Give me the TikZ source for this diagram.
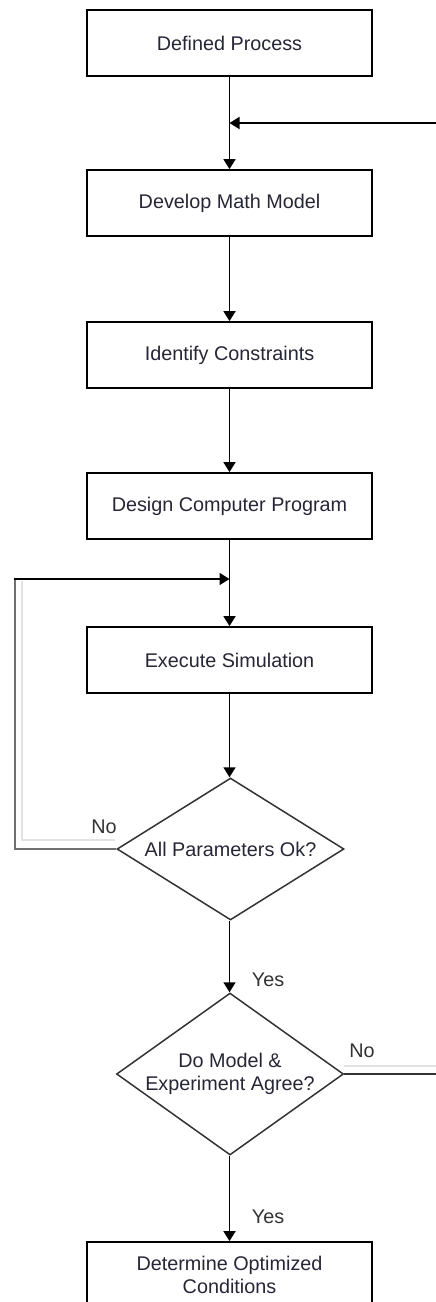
\documentclass[tikz,border=0pt]{standalone}
\usepackage{fontspec}
\setmainfont{Liberation Sans}
\usetikzlibrary{shapes.geometric,arrows.meta}
\definecolor{txt}{HTML}{262636}
\definecolor{lbl}{HTML}{333333}
\definecolor{diag}{HTML}{333333}
\definecolor{loopc}{HTML}{707070}
\definecolor{faint}{HTML}{E2E2E2}
\tikzset{
  procbox/.style={draw=black, line width=1.8pt, rectangle, minimum width=285pt, minimum height=66pt, inner sep=0pt, align=center, text=txt, font=\fontsize{19.8}{23.5}\selectfont},
  decbox/.style={draw=diag, line width=1.5pt, diamond, minimum width=227pt, inner sep=0pt},
  dectext/.style={align=center, text=txt, font=\fontsize{19.8}{23.5}\selectfont, inner sep=0pt},
  flow/.style={draw=black, line width=1.8pt, -{Triangle[length=10pt,width=12pt]}},
  lab/.style={text=lbl, font=\fontsize{19.8}{23.5}\selectfont, inner sep=0pt},
}
\begin{document}
\begin{tikzpicture}[x=1pt,y=-1pt]
\useasboundingbox (0,0) rectangle (436,1302);
\clip (0,0) rectangle (436,1302);
\node[procbox] (b1) at (229.5,43) {Defined Process};
\node[procbox] (b2) at (229.5,203) {Develop Math Model};
\node[procbox] (b3) at (229.5,355) {Identify Constraints};
\node[procbox] (b4) at (229.5,506) {Design Computer Program};
\node[procbox] (b5) at (229.5,660) {Execute Simulation};
\node[decbox, minimum height=142pt, label={[dectext]center:All Parameters Ok?}] (d1) at (230.5,849) {};
\node[decbox, minimum height=162pt, label={[dectext]center:{Do Model \&\\Experiment Agree?}}] (d2) at (230,1074) {};
\node[procbox] (b6) at (229.5,1275) {Determine Optimized\\Conditions};
% merge points and free ends
\coordinate (m1) at (229.5,123);
\coordinate (rin) at (437,123);
\coordinate (m2) at (229.5,579);
\coordinate (lc) at (15,849);
\coordinate (rout) at (437,1074);
% connectors
\draw[flow] (b1) -- (b2);
\draw[flow] (rin) -- (m1);
\draw[flow] (b2) -- (b3);
\draw[flow] (b3) -- (b4);
\draw[flow] (b4) -- (b5);
\draw[flow] (b5.south) -- (b5.south |- d1.north);
\draw[flow] (d1.south -| b5.south) -- (b5.south |- d2.north);
\draw[flow] (d2.south -| b5.south) -- (b6);
% loop back (No)
\draw[faint, line width=1.2pt] (d1.west) ++(-1,-9) -- (22,840) -- (22,581);
\draw[loopc, line width=2.2pt] (d1.west) -- (lc) -- (15,578.9);
\draw[flow] (14,579) -- (m2);
% right exit (No)
\draw[faint, line width=1.2pt] (d2.east) ++(0,-8) -- (437,1066);
\draw[diag, line width=1.8pt] (d2.east) -- (rout);
% labels
\node[lab] (n1) at (104,827) {No};
\node[lab] (y1) at (268,980) {Yes};
\node[lab] (n2) at (362,1051) {No};
\node[lab] (y2) at (268,1217) {Yes};
\end{tikzpicture}
\end{document}
